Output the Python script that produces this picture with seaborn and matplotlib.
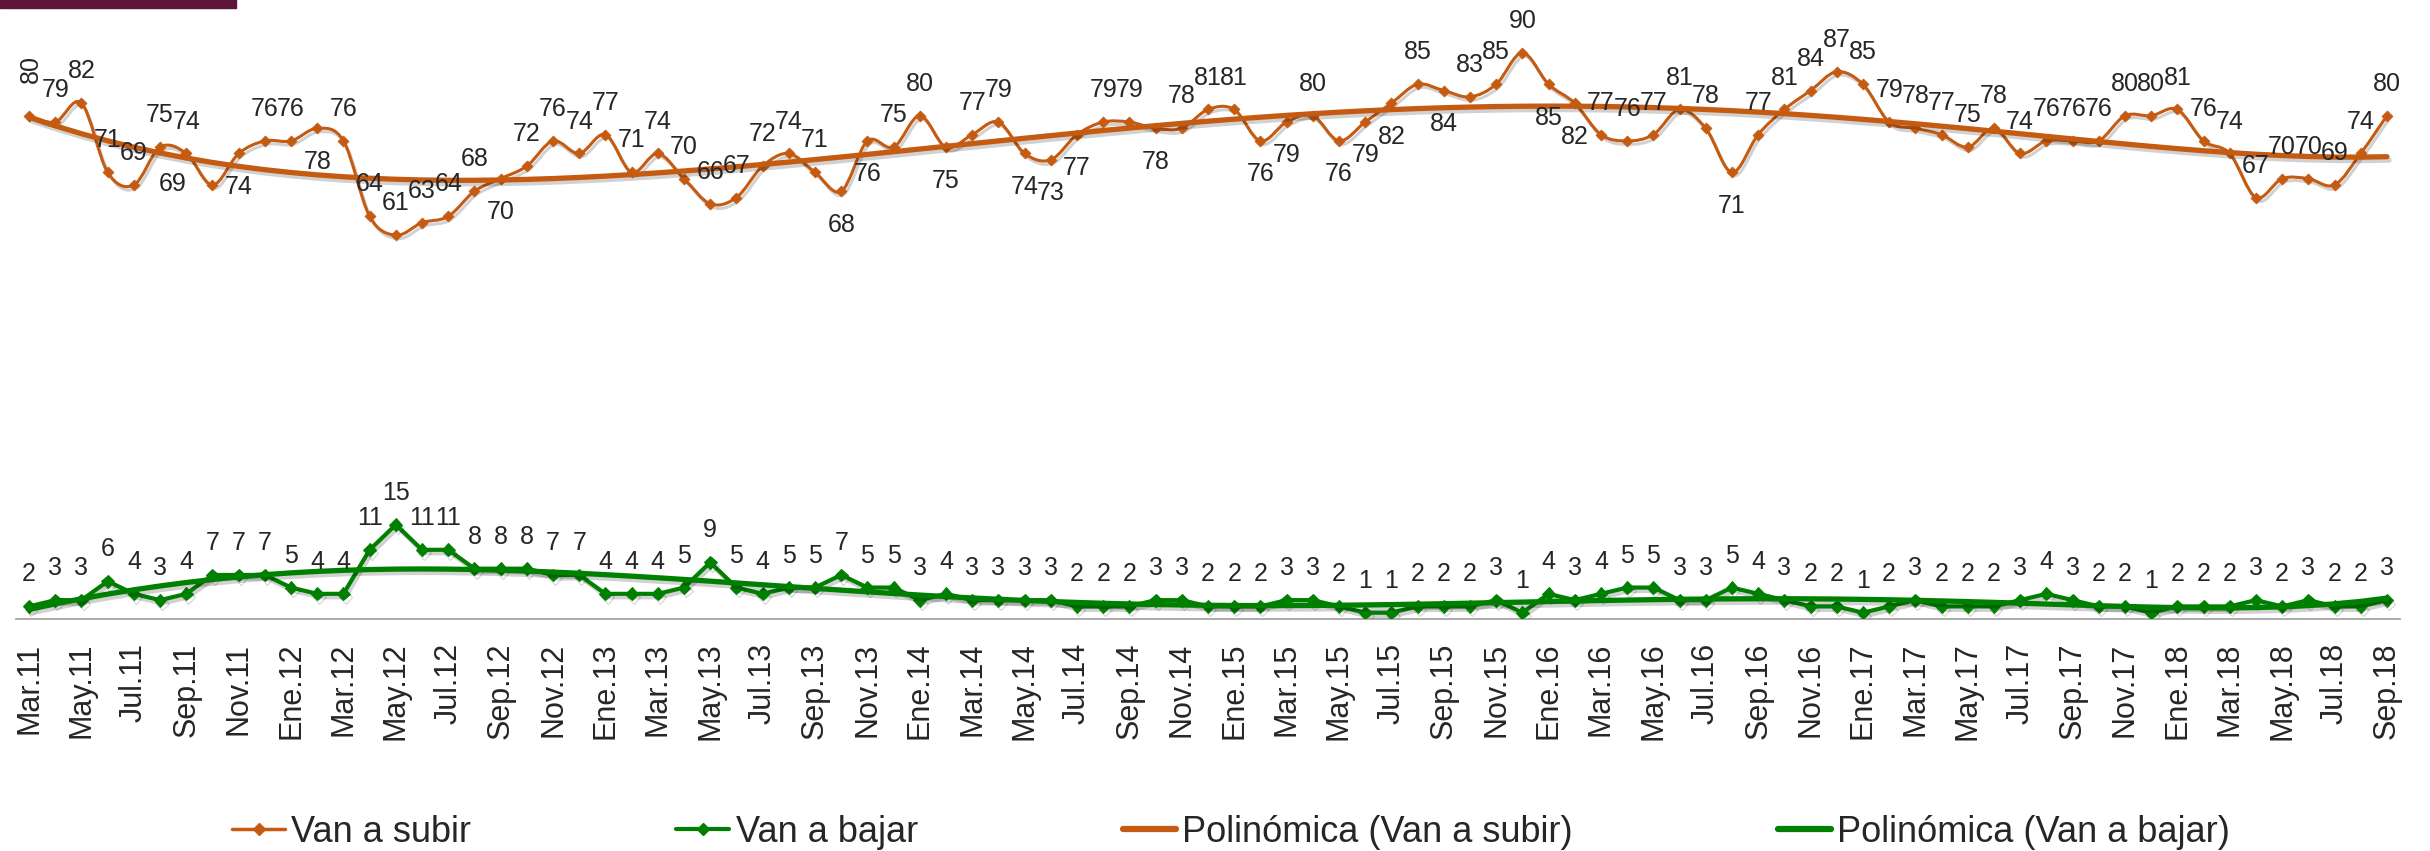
import matplotlib
matplotlib.use("Agg")
import matplotlib.pyplot as plt
import matplotlib.patheffects as pe
from matplotlib.path import Path
from matplotlib.patches import PathPatch, Rectangle
from matplotlib.lines import Line2D
import seaborn as sns
import numpy as np
import pandas as pd

# Monthly survey, Mar.11 .. Sep.18 (91 months)
van_a_subir = [80, 79, 82, 71, 69, 75, 74, 69, 74, 76, 76, 78, 76, 64, 61, 63, 64, 68, 70, 72, 76, 74, 77,
               71, 74, 70, 66, 67, 72, 74, 71, 68, 76, 75, 80, 75, 77, 79, 74, 73, 77, 79, 79, 78, 78, 81,
               81, 76, 79, 80, 76, 79, 82, 85, 84, 83, 85, 90, 85, 82, 77, 76, 77, 81, 78, 71, 77, 81, 84,
               87, 85, 79, 78, 77, 75, 78, 74, 76, 76, 76, 80, 80, 81, 76, 74, 67, 70, 70, 69, 74, 80]
van_a_bajar = [2, 3, 3, 6, 4, 3, 4, 7, 7, 7, 5, 4, 4, 11, 15, 11, 11, 8, 8, 8, 7, 7, 4,
               4, 4, 5, 9, 5, 4, 5, 5, 7, 5, 5, 3, 4, 3, 3, 3, 3, 2, 2, 2, 3, 3, 2,
               2, 2, 3, 3, 2, 1, 1, 2, 2, 2, 3, 1, 4, 3, 4, 5, 5, 3, 3, 5, 4, 3, 2,
               2, 1, 2, 3, 2, 2, 2, 3, 4, 3, 2, 2, 1, 2, 2, 2, 3, 2, 3, 2, 2, 3]
tick_labels = ["Mar.11", "May.11", "Jul.11", "Sep.11", "Nov.11",
               "Ene.12", "Mar.12", "May.12", "Jul.12", "Sep.12", "Nov.12",
               "Ene.13", "Mar.13", "May.13", "Jul.13", "Sep.13", "Nov.13",
               "Ene.14", "Mar.14", "May.14", "Jul.14", "Sep.14", "Nov.14",
               "Ene.15", "Mar.15", "May.15", "Jul.15", "Sep.15", "Nov.15",
               "Ene.16", "Mar.16", "May.16", "Jul.16", "Sep.16", "Nov.16",
               "Ene.17", "Mar.17", "May.17", "Jul.17", "Sep.17", "Nov.17",
               "Ene.18", "Mar.18", "May.18", "Jul.18", "Sep.18"]
series_names = ["Van a subir", "Van a bajar", "Polinómica (Van a subir)", "Polinómica (Van a bajar)"]

# label placement for the orange series (indices whose label sits below the point)
subir_below = {7, 8, 11, 18, 31, 32, 35, 38, 39, 40, 43, 47, 48, 50, 51, 52, 54, 58, 59, 65}

ORANGE = "#C55A11"
GREEN = "#008000"
AXIS_GRAY = "#A6A6A6"

sns.set_style("white")
plt.rcParams['font.family'] = ['Liberation Sans', 'DejaVu Sans']

x = np.arange(len(van_a_subir))
df = pd.DataFrame({"mes": x, "subir": van_a_subir, "bajar": van_a_bajar})
# Excel style polynomial trendlines
df["trend_subir"] = np.polyval(np.polyfit(df["mes"], df["subir"], 6), df["mes"])
df["trend_bajar"] = np.polyval(np.polyfit(df["mes"], df["bajar"], 6), df["mes"])

fig = plt.figure(figsize=(24.3, 8.51), dpi=100)
ax = fig.add_axes([16 / 2430, 1 - 619 / 851, 2384 / 2430, 619 / 851])

shadow = [pe.SimpleLineShadow(offset=(1.5, -2.5), shadow_color="black", alpha=0.18), pe.Normal()]


def smooth_path(xs, ys):
    """Bezier path through the points, like Excel's smoothed line."""
    pts = np.column_stack([xs, ys]).astype(float)
    n = len(pts)
    verts = [pts[0]]
    codes = [Path.MOVETO]
    for i in range(n - 1):
        p0 = pts[i - 1] if i > 0 else pts[i]
        p1, p2 = pts[i], pts[i + 1]
        p3 = pts[i + 2] if i + 2 < n else pts[i + 1]
        verts += [p1 + (p2 - p0) / 6, p2 - (p3 - p1) / 6, p2]
        codes += [Path.CURVE4] * 3
    return Path(verts, codes)


# Van a subir: smoothed line + diamonds
curve = PathPatch(smooth_path(df["mes"], df["subir"]), fill=False, edgecolor=ORANGE,
                  linewidth=2.2, transform=ax.transData, zorder=2)
curve.set_path_effects(shadow)
ax.add_patch(curve)
sns.scatterplot(data=df, x="mes", y="subir", marker="D", s=32, color=ORANGE,
                edgecolor=ORANGE, ax=ax, zorder=3, legend=False)

# Van a bajar: straight line + diamonds
sns.lineplot(data=df, x="mes", y="bajar", color=GREEN, marker="D", markersize=6.5,
             markeredgecolor=GREEN, linewidth=3, ax=ax, zorder=3, path_effects=shadow)

# trendlines
sns.lineplot(data=df, x="mes", y="trend_subir", color=ORANGE, linewidth=3.8, ax=ax,
             zorder=4, path_effects=shadow)
sns.lineplot(data=df, x="mes", y="trend_bajar", color=GREEN, linewidth=3.8, ax=ax,
             zorder=4, path_effects=shadow)

# data labels
for i, v in enumerate(van_a_subir):
    if i == 0:
        ax.annotate(str(v), (i, v), xytext=(1, 34), textcoords="offset points", rotation=90,
                    ha="center", va="center", fontsize=18, zorder=5)
    elif i == 7:
        ax.annotate(str(v), (i, v), xytext=(-29, 1), textcoords="offset points",
                    ha="center", va="center", fontsize=18, zorder=5)
    else:
        dy = -24 if i in subir_below else 23
        ax.annotate(str(v), (i, v), xytext=(0, dy), textcoords="offset points",
                    ha="center", va="center", fontsize=18, zorder=5)
for i, v in enumerate(van_a_bajar):
    ax.annotate(str(v), (i, v), xytext=(0, 23), textcoords="offset points",
                ha="center", va="center", fontsize=18, zorder=5)

ax.set_xlim(-0.5, len(van_a_subir) - 0.5)
ax.set_ylim(0, 98.4)
ax.set_xticks(np.arange(0, len(van_a_subir), 2))
ax.set_xticklabels(tick_labels, rotation=90, fontsize=22)
ax.set_xticks(np.arange(-0.5, len(van_a_subir), 1), minor=True)
ax.tick_params(axis="x", which="major", length=0, pad=17)
ax.tick_params(axis="x", which="minor", length=7, width=1.1, color=AXIS_GRAY, direction="out")
ax.set_yticks([])
ax.set_xlabel("")
ax.set_ylabel("")
for side in ["left", "right", "top"]:
    ax.spines[side].set_visible(False)
ax.spines["bottom"].set_color(AXIS_GRAY)
ax.spines["bottom"].set_linewidth(1.3)
ax.patch.set_alpha(0)

handles = [
    Line2D([], [], color=ORANGE, lw=2.5, marker="D", markersize=6),
    Line2D([], [], color=GREEN, lw=3, marker="D", markersize=6),
    Line2D([], [], color=ORANGE, lw=4.5),
    Line2D([], [], color=GREEN, lw=4.5),
]
fig.legend(handles, series_names, loc="center", bbox_to_anchor=(1231 / 2430, 1 - 832 / 851),
           bbox_transform=fig.transFigure, ncol=4, frameon=False, fontsize=26,
           handlelength=1.47, handletextpad=0.17, columnspacing=5.68, numpoints=1)

# maroon band in the top-left corner
fig.patches.append(Rectangle((0, 1 - 8 / 851), 236 / 2430, 8 / 851, transform=fig.transFigure,
                             color="#5C1438", zorder=10))

fig.savefig("out.png", dpi=100)
